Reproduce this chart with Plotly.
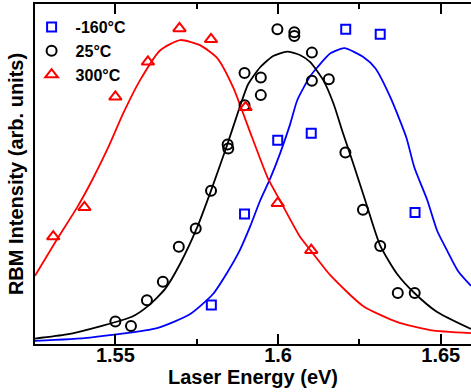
import plotly.graph_objects as go

# ---- measured markers ----
E_blue = [1.5795, 1.5897, 1.5999, 1.6102, 1.6208, 1.6314, 1.6421]
I_blue = [11.5, 38.2, 59.9, 62.0, 92.6, 91.1, 38.7]

E_black = [1.5500, 1.5548, 1.5597, 1.5646, 1.5695, 1.5747, 1.5794, 1.5845, 1.5847,
           1.5897, 1.5897, 1.5947, 1.5947, 1.5998, 1.6050, 1.6050, 1.6104, 1.6104,
           1.6156, 1.6207, 1.6261, 1.6314, 1.6368, 1.6420]
I_black = [6.6, 5.3, 12.9, 18.3, 28.6, 34.0, 45.1, 58.7, 57.5,
           79.7, 70.2, 78.4, 73.2, 92.6, 91.7, 90.6, 85.7, 77.4,
           77.9, 56.3, 39.5, 28.8, 15.0, 15.0]

E_red = [1.5309, 1.5405, 1.5500, 1.5600, 1.5697, 1.5794, 1.5900, 1.5999, 1.6102]
I_red = [31.6, 40.2, 72.7, 83.0, 92.8, 89.6, 69.6, 41.4, 27.6]

# ---- fitted curves ----
fitE_blue = [1.5253, 1.5422, 1.5628, 1.5730, 1.5800, 1.5843, 1.5883,
             1.5914, 1.5945, 1.5976, 1.6006, 1.6037, 1.6059, 1.6099, 1.6121, 1.6161,
             1.6204, 1.6262, 1.6299, 1.6345, 1.6394, 1.6419, 1.6459, 1.6489, 1.6520,
             1.6553, 1.6593]
fitI_blue = [0.9, 1.9, 4.7, 8.8, 14.7, 20.9, 27.7,
             34.5, 42.2, 48.7, 56.0, 64.6, 71.7, 78.8, 81.4, 85.5,
             87.0, 84.4, 81.1, 72.6, 60.8, 51.9, 42.2, 33.3, 27.4,
             21.5, 17.1]

fitE_black = [1.5253, 1.5351, 1.5453, 1.5551, 1.5601, 1.5653, 1.5699, 1.5751,
              1.5794, 1.5843, 1.5883, 1.5908, 1.5945, 1.5985, 1.6028, 1.6067, 1.6099,
              1.6139, 1.6170, 1.6200, 1.6231, 1.6268, 1.6314, 1.6366, 1.6419, 1.6489,
              1.6593]
fitI_black = [1.6, 2.8, 5.2, 8.0, 11.2, 16.2, 23.6, 34.2,
              45.1, 58.4, 69.9, 76.4, 81.4, 84.7, 86.0, 85.0, 82.9,
              77.6, 70.8, 61.9, 53.1, 42.2, 28.9, 20.6, 15.0, 9.4,
              4.4]

fitE_red = [1.5253, 1.5324, 1.5382, 1.5428, 1.5478, 1.5524, 1.5576, 1.5638, 1.5699,
            1.5760, 1.5813, 1.5862, 1.5920, 1.5969, 1.6006, 1.6067, 1.6101,
            1.6159, 1.6261, 1.6365, 1.6467, 1.6593]
fitI_red = [20.1, 31.3, 40.1, 48.1, 57.8, 67.8, 77.6, 86.4, 89.4,
            87.9, 84.1, 75.5, 60.8, 48.7, 42.2, 31.6, 27.4,
            20.4, 11.2, 6.5, 4.1, 3.2]

x_ticks = [1.55, 1.6, 1.65]
x_tick_labels = ["1.55", "1.6", "1.65"]

names = ["-160°C", "25°C", "300°C"]
colors = ["#0000FF", "#000000", "#FF0000"]
symbols = ["square-open", "circle-open", "triangle-up-open"]
sizes = [9, 10, 11]

FONT = "Liberation Sans, Arial, sans-serif"

fig = go.Figure()

for fx, fy, c in [(fitE_blue, fitI_blue, colors[0]),
                  (fitE_black, fitI_black, colors[1]),
                  (fitE_red, fitI_red, colors[2])]:
    fig.add_trace(go.Scatter(x=fx, y=fy, mode="lines", showlegend=False,
                             line=dict(color=c, width=1.8, shape="spline", smoothing=0.6),
                             hoverinfo="skip"))

for ex, iy, n, c, s, sz in [(E_blue, I_blue, names[0], colors[0], symbols[0], sizes[0]),
                            (E_black, I_black, names[1], colors[1], symbols[1], sizes[1]),
                            (E_red, I_red, names[2], colors[2], symbols[2], sizes[2])]:
    fig.add_trace(go.Scatter(x=ex, y=iy, mode="markers", name=n,
                             marker=dict(symbol=s, size=sz, color=c,
                                         line=dict(color=c, width=2))))

fig.update_layout(
    width=471, height=392,
    margin=dict(l=35, r=0, t=4, b=48),
    paper_bgcolor="white", plot_bgcolor="white",
    font=dict(family=FONT, color="black", size=18),
    showlegend=True,
    legend=dict(x=-0.017, y=0.982, xanchor="left", yanchor="top",
                bgcolor="rgba(0,0,0,0)",
                font=dict(family=FONT, size=16, weight="bold", color="black"),
                tracegroupgap=0, itemwidth=38),
    xaxis=dict(range=[1.5253, 1.6593], tickvals=x_ticks, ticktext=x_tick_labels,
               ticks="inside", ticklen=10, tickwidth=2, tickcolor="black",
               showline=True, linewidth=2, linecolor="black", mirror="allticks",
               showgrid=False, zeroline=False, automargin=False,
               ticklabelstandoff=-8,
               tickfont=dict(family=FONT, size=20, weight="bold"),
               minor=dict(tickvals=[1.575, 1.625], ticks="inside", ticklen=5,
                          tickwidth=2, tickcolor="black", showgrid=False),
               title=dict(text="Laser Energy (eV)", standoff=0,
                          font=dict(family=FONT, size=20, weight="bold"))),
    yaxis=dict(range=[0, 100], showticklabels=False, ticks="",
               showline=True, linewidth=2, linecolor="black", mirror=False,
               showgrid=False, zeroline=False, automargin=False,
               title=dict(text="RBM Intensity (arb. units)", standoff=4,
                          font=dict(family=FONT, size=20, weight="bold"))),
)

fig.write_html("out.html", config={"displayModeBar": False},
               post_script="document.body.style.margin='0';")
